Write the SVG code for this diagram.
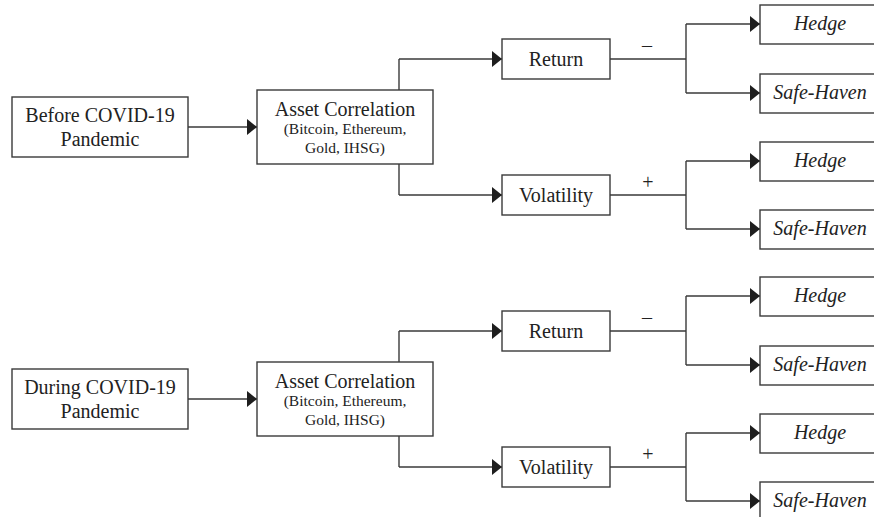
<svg xmlns="http://www.w3.org/2000/svg" width="874" height="517" viewBox="0 0 874 517">
<defs>
<marker id="ah" markerUnits="userSpaceOnUse" markerWidth="11" markerHeight="18" refX="10" refY="8" orient="auto">
<path d="M0,0 L10,8 L0,16 z" fill="#1e1e1e"/>
</marker>
<style>
.box{fill:#fff;stroke:#3a3a3a;stroke-width:1.4}
.t{font-family:"Liberation Serif","Times New Roman",serif;font-size:20px;fill:#222;text-anchor:middle}
.s{font-size:15.5px}
.i{font-style:italic}
.c{fill:none;stroke:#3a3a3a;stroke-width:1.4}
.ca{fill:none;stroke:#3a3a3a;stroke-width:1.4;marker-end:url(#ah)}
</style>
</defs>
<rect width="874" height="517" fill="#fff"/>
<g id="connectors">
<path class="ca" d="M188,127 H257"/>
<path class="c" d="M399,90 V59"/><path class="ca" d="M399,59 H502"/>
<path class="c" d="M399,164 V195"/><path class="ca" d="M399,195 H502"/>
<path class="c" d="M610,59 H686 M686,24 V93"/>
<path class="ca" d="M686,24 H760"/><path class="ca" d="M686,93 H760"/>
<path class="c" d="M610,195 H686 M686,161 V229"/>
<path class="ca" d="M686,161 H760"/><path class="ca" d="M686,229 H760"/>
<text class="t" x="647" y="52">–</text>
<text class="t" x="648" y="189">+</text>
<path class="ca" d="M188,399 H257"/>
<path class="c" d="M399,362 V331"/><path class="ca" d="M399,331 H502"/>
<path class="c" d="M399,436 V467"/><path class="ca" d="M399,467 H502"/>
<path class="c" d="M610,331 H686 M686,296 V365"/>
<path class="ca" d="M686,296 H760"/><path class="ca" d="M686,365 H760"/>
<path class="c" d="M610,467 H686 M686,433 V501"/>
<path class="ca" d="M686,433 H760"/><path class="ca" d="M686,501 H760"/>
<text class="t" x="647" y="324">–</text>
<text class="t" x="648" y="461">+</text>
</g>
<g id="before"><rect class="box" x="12" y="97" width="176" height="60"/><text class="t" x="100" y="122">Before COVID-19</text><text class="t" x="100" y="146">Pandemic</text></g>
<g id="asset1"><rect class="box" x="257" y="90" width="176" height="74"/><text class="t" x="345" y="116">Asset Correlation</text><text class="t s" x="345" y="134">(Bitcoin, Ethereum,</text><text class="t s" x="345" y="153">Gold, IHSG)</text></g>
<g id="return1"><rect class="box" x="502" y="39" width="108" height="40"/><text class="t" x="556" y="66">Return</text></g>
<g id="vol1"><rect class="box" x="502" y="175" width="108" height="40"/><text class="t" x="556" y="202">Volatility</text></g>
<g id="hedge1"><rect class="box" x="760" y="5" width="130" height="39"/><text class="t i" x="820" y="30">Hedge</text></g>
<g id="safe1"><rect class="box" x="760" y="74" width="130" height="39"/><text class="t i" x="820" y="99">Safe-Haven</text></g>
<g id="hedge2"><rect class="box" x="760" y="142" width="130" height="39"/><text class="t i" x="820" y="167">Hedge</text></g>
<g id="safe2"><rect class="box" x="760" y="210" width="130" height="39"/><text class="t i" x="820" y="235">Safe-Haven</text></g>
<g id="during"><rect class="box" x="12" y="369" width="176" height="60"/><text class="t" x="100" y="394">During COVID-19</text><text class="t" x="100" y="418">Pandemic</text></g>
<g id="asset2"><rect class="box" x="257" y="362" width="176" height="74"/><text class="t" x="345" y="388">Asset Correlation</text><text class="t s" x="345" y="406">(Bitcoin, Ethereum,</text><text class="t s" x="345" y="425">Gold, IHSG)</text></g>
<g id="return2"><rect class="box" x="502" y="311" width="108" height="40"/><text class="t" x="556" y="338">Return</text></g>
<g id="vol2"><rect class="box" x="502" y="447" width="108" height="40"/><text class="t" x="556" y="474">Volatility</text></g>
<g id="hedge3"><rect class="box" x="760" y="277" width="130" height="39"/><text class="t i" x="820" y="302">Hedge</text></g>
<g id="safe3"><rect class="box" x="760" y="346" width="130" height="39"/><text class="t i" x="820" y="371">Safe-Haven</text></g>
<g id="hedge4"><rect class="box" x="760" y="414" width="130" height="39"/><text class="t i" x="820" y="439">Hedge</text></g>
<g id="safe4"><rect class="box" x="760" y="482" width="130" height="39"/><text class="t i" x="820" y="507">Safe-Haven</text></g>
</svg>
